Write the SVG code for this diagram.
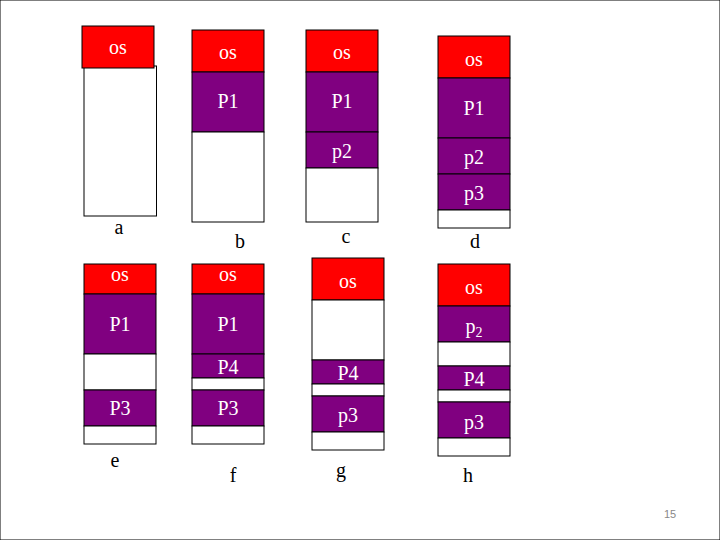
<svg xmlns="http://www.w3.org/2000/svg" width="720" height="540" viewBox="0 0 720 540">
<style>
rect{stroke:#000;stroke-width:1}
.o{fill:#ff0000}.p{fill:#800080}.w{fill:#fff}
text{font-family:"Liberation Serif",serif;font-size:20px;text-anchor:middle}
.t{fill:#fff}.l{fill:#000}
</style>
<rect width="720" height="540" fill="#fff" stroke="none"/>
<g id="a"><rect class="w" x="84" y="66" width="72.5" height="150"/><rect class="o" x="82" y="26" width="72" height="42"/><text class="t" x="118" y="54">os</text><text class="l" x="119" y="234">a</text></g>
<g id="b"><rect class="o" x="192" y="30" width="72" height="42"/><rect class="p" x="192" y="72" width="72" height="60"/><rect class="w" x="192" y="132" width="72" height="90"/><text class="t" x="228" y="59">os</text><text class="t" x="228" y="108">P1</text><text class="l" x="240" y="248">b</text></g>
<g id="c"><rect class="o" x="306" y="30" width="72" height="42"/><rect class="p" x="306" y="72" width="72" height="60"/><rect class="p" x="306" y="132" width="72" height="36"/><rect class="w" x="306" y="168" width="72" height="54"/><text class="t" x="342" y="59">os</text><text class="t" x="342" y="108">P1</text><text class="t" x="342" y="158">p2</text><text class="l" x="346" y="243">c</text></g>
<g id="d"><rect class="o" x="438" y="36" width="72" height="42"/><rect class="p" x="438" y="78" width="72" height="60"/><rect class="p" x="438" y="138" width="72" height="36"/><rect class="p" x="438" y="174" width="72" height="36"/><rect class="w" x="438" y="210" width="72" height="18"/><text class="t" x="474" y="66">os</text><text class="t" x="474" y="115">P1</text><text class="t" x="474" y="164">p2</text><text class="t" x="474" y="200">p3</text><text class="l" x="475" y="248">d</text></g>
<g id="e"><rect class="o" x="84" y="264" width="72" height="30"/><rect class="p" x="84" y="294" width="72" height="60"/><rect class="w" x="84" y="354" width="72" height="36"/><rect class="p" x="84" y="390" width="72" height="36"/><rect class="w" x="84" y="426" width="72" height="18"/><text class="t" x="120" y="281">os</text><text class="t" x="120" y="331">P1</text><text class="t" x="120" y="415">P3</text><text class="l" x="115" y="467">e</text></g>
<g id="f"><rect class="o" x="192" y="264" width="72" height="30"/><rect class="p" x="192" y="294" width="72" height="60"/><rect class="p" x="192" y="354" width="72" height="24"/><rect class="w" x="192" y="378" width="72" height="12"/><rect class="p" x="192" y="390" width="72" height="36"/><rect class="w" x="192" y="426" width="72" height="18"/><text class="t" x="228" y="281">os</text><text class="t" x="228" y="331">P1</text><text class="t" x="228" y="374">P4</text><text class="t" x="228" y="415">P3</text><text class="l" x="233" y="482">f</text></g>
<g id="g"><rect class="o" x="312" y="258" width="72" height="42"/><rect class="w" x="312" y="300" width="72" height="60"/><rect class="p" x="312" y="360" width="72" height="24"/><rect class="w" x="312" y="384" width="72" height="12"/><rect class="p" x="312" y="396" width="72" height="36"/><rect class="w" x="312" y="432" width="72" height="18"/><text class="t" x="348" y="288">os</text><text class="t" x="348" y="380">P4</text><text class="t" x="348" y="422">p3</text><text class="l" x="341" y="477">g</text></g>
<g id="h"><rect class="o" x="438" y="264" width="72" height="42"/><rect class="p" x="438" y="306" width="72" height="36"/><rect class="w" x="438" y="342" width="72" height="24"/><rect class="p" x="438" y="366" width="72" height="24"/><rect class="w" x="438" y="390" width="72" height="12"/><rect class="p" x="438" y="402" width="72" height="36"/><rect class="w" x="438" y="438" width="72" height="18"/><text class="t" x="474" y="294">os</text><text class="t" x="474" y="333">p<tspan font-size="14" dy="4">2</tspan></text><text class="t" x="474" y="386">P4</text><text class="t" x="474" y="429">p3</text><text class="l" x="468" y="482">h</text></g>
<text x="670" y="518" style="font-family:'Liberation Sans',sans-serif;font-size:11px;fill:#888">15</text>
</svg>
